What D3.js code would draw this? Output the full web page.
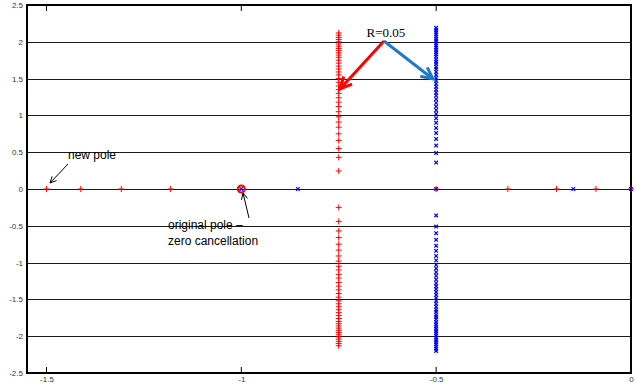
<!DOCTYPE html>
<html>
<head>
<meta charset="utf-8">
<script src="https://cdn.jsdelivr.net/npm/d3@7"></script>
<style>
  body { margin: 0; background: #fff; }
  text { font-family: Arial, "Liberation Sans", sans-serif; }
</style>
</head>
<body>
<div id="chart"></div>
<script>
// axis ticks
const xTicks = [-1.5, -1, -0.5, 0];
const yTicks = [-2.5, -2, -1.5, -1, -0.5, 0, 0.5, 1, 1.5, 2, 2.5];

// red '+' poles (R = 0.05)
const redRealX = [-1.5, -1.412, -1.308, -1.182, -0.5, -0.316, -0.191, -0.09, 0];
const redBranchX = -0.75;
const redImagUp = [0.245, 0.43, 0.55, 0.66, 0.75, 0.84, 0.91, 0.98, 1.05, 1.12, 1.18, 1.24, 1.30, 1.35,
  1.40, 1.45, 1.50, 1.55, 1.59, 1.63, 1.67, 1.71, 1.75, 1.79, 1.82, 1.85, 1.88, 1.91, 1.94, 1.97,
  2.00, 2.03, 2.06, 2.09, 2.12];
const redImagDown = [-0.25, -0.44, -0.57, -0.66, -0.75, -0.83, -0.91, -0.98, -1.05, -1.10, -1.16, -1.21,
  -1.27, -1.32, -1.37, -1.42, -1.47, -1.52, -1.56, -1.60, -1.64, -1.68, -1.72, -1.76, -1.80, -1.83,
  -1.86, -1.89, -1.92, -1.95, -1.98, -2.01, -2.04, -2.07, -2.10, -2.13];

// blue 'x' poles (original)
const blueRealX = [-1.0, -0.855, -0.5, -0.148, 0];
const blueBranchX = -0.5;
const blueImagUp = [0.36, 0.49, 0.59, 0.68, 0.76, 0.83, 0.90, 0.96, 1.02, 1.07, 1.12, 1.17, 1.22, 1.27,
  1.31, 1.35, 1.39, 1.43, 1.47, 1.51, 1.55, 1.59, 1.63, 1.66, 1.70, 1.73, 1.76, 1.80, 1.83, 1.86,
  1.89, 1.92, 1.95, 1.98, 2.01, 2.04, 2.07, 2.10, 2.13, 2.16, 2.19];
const blueImagDown = [-0.36, -0.51, -0.60, -0.69, -0.77, -0.84, -0.91, -0.97, -1.03, -1.08, -1.13, -1.18,
  -1.23, -1.28, -1.32, -1.36, -1.40, -1.44, -1.48, -1.52, -1.56, -1.60, -1.64, -1.67, -1.71, -1.74,
  -1.77, -1.81, -1.84, -1.87, -1.90, -1.93, -1.96, -1.99, -2.02, -2.05, -2.08, -2.11, -2.14, -2.17, -2.20];

// red circle = pole-zero cancellation
const cancelX = -1.0;

const width = 636, height = 386;
const mLeft = 27, mRight = 631, mTop = 5, mBottom = 373;

const svg = d3.select("#chart").append("svg")
  .attr("width", width)
  .attr("height", height);

const x = d3.scaleLinear().domain([-1.55, 0]).range([mLeft, mRight]);
const y = d3.scaleLinear().domain([-2.5, 2.5]).range([mBottom, mTop]);

// horizontal grid lines
svg.append("g").selectAll("line")
  .data(yTicks.slice(1, -1))
  .join("line")
    .attr("x1", mLeft).attr("x2", mRight)
    .attr("y1", d => Math.round(y(d)) + 0.5).attr("y2", d => Math.round(y(d)) + 0.5)
    .attr("stroke", "#1a1a1a").attr("stroke-width", 1);

// axes, ticks inside
const fmt = d => String(d);
const xAxisB = d3.axisBottom(x).tickValues(xTicks).tickSize(0).tickPadding(3).tickFormat(fmt);
const yAxisL = d3.axisLeft(y).tickValues(yTicks).tickSize(0).tickPadding(4).tickFormat(fmt);

const gx = svg.append("g").attr("transform", `translate(0,${mBottom})`).call(xAxisB);
const gy = svg.append("g").attr("transform", `translate(${mLeft},0)`).call(yAxisL);
[gx, gy].forEach(g => {
  g.select(".domain").remove();
  g.selectAll("text").attr("font-size", 8).attr("fill", "#333");
});

// inside tick marks top and bottom
svg.append("g").selectAll("line")
  .data(xTicks)
  .join("line")
    .attr("x1", d => x(d)).attr("x2", d => x(d))
    .attr("y1", mBottom).attr("y2", mBottom - 6)
    .attr("stroke", "#000");
svg.append("g").selectAll("line")
  .data(xTicks)
  .join("line")
    .attr("x1", d => x(d)).attr("x2", d => x(d))
    .attr("y1", mTop).attr("y2", mTop + 6)
    .attr("stroke", "#000");

// frame
svg.append("rect")
  .attr("x", mLeft).attr("y", mTop)
  .attr("width", mRight - mLeft).attr("height", mBottom - mTop)
  .attr("fill", "none").attr("stroke", "#000").attr("stroke-width", 2);

// markers
const redPts = redRealX.map(v => [v, 0])
  .concat(redImagUp.map(v => [redBranchX, v]))
  .concat(redImagDown.map(v => [redBranchX, v]));
const bluePts = blueRealX.map(v => [v, 0])
  .concat(blueImagUp.map(v => [blueBranchX, v]))
  .concat(blueImagDown.map(v => [blueBranchX, v]));

svg.append("circle")
  .attr("cx", x(cancelX)).attr("cy", y(0)).attr("r", 3.5)
  .attr("fill", "none").attr("stroke", "#ff0000").attr("stroke-width", 2);

svg.append("g").selectAll("path")
  .data(redPts)
  .join("path")
    .attr("d", d => {
      const cx = x(d[0]), cy = y(d[1]), s = 3;
      return `M${cx - s},${cy}H${cx + s}M${cx},${cy - s}V${cy + s}`;
    })
    .attr("stroke", "#ff0000").attr("stroke-width", 1).attr("fill", "none");

svg.append("g").selectAll("path")
  .data(bluePts)
  .join("path")
    .attr("d", d => {
      const cx = x(d[0]), cy = y(d[1]), s = 1.8;
      return `M${cx - s},${cy - s}L${cx + s},${cy + s}M${cx - s},${cy + s}L${cx + s},${cy - s}`;
    })
    .attr("stroke", "#0000ff").attr("stroke-width", 1.2).attr("fill", "none");

// annotations
function arrow(x1, y1, x2, y2, color, w, head) {
  svg.append("line")
    .attr("x1", x1).attr("y1", y1).attr("x2", x2).attr("y2", y2)
    .attr("stroke", color).attr("stroke-width", w);
  const a = Math.atan2(y2 - y1, x2 - x1);
  const p1 = [x2 - head * Math.cos(a - 0.45), y2 - head * Math.sin(a - 0.45)];
  const p2 = [x2 - head * Math.cos(a + 0.45), y2 - head * Math.sin(a + 0.45)];
  svg.append("path")
    .attr("d", `M${p1[0]},${p1[1]}L${x2},${y2}L${p2[0]},${p2[1]}`)
    .attr("stroke", color).attr("stroke-width", w).attr("fill", "none")
    .attr("stroke-linejoin", "miter");
}

svg.append("text").attr("x", 68).attr("y", 159).attr("font-size", 12).text("new pole");
arrow(68, 164, 50, 183, "#000", 1, 7);

svg.append("text").attr("x", 168).attr("y", 229).attr("font-size", 12).text("original pole \u2013");
svg.append("text").attr("x", 168).attr("y", 245).attr("font-size", 12).text("zero cancellation");
arrow(249, 218, 243, 193, "#000", 1, 7);

svg.append("text").attr("x", 386).attr("y", 37).attr("text-anchor", "middle")
  .style("font-family", "'Liberation Serif', 'Times New Roman', serif").attr("font-size", 13)
  .text("R=0.05");
arrow(384, 41, 340, 89, "#ff0000", 3, 13);
arrow(384, 41, 433, 79, "#1f7ac4", 3, 13);
</script>
</body>
</html>
